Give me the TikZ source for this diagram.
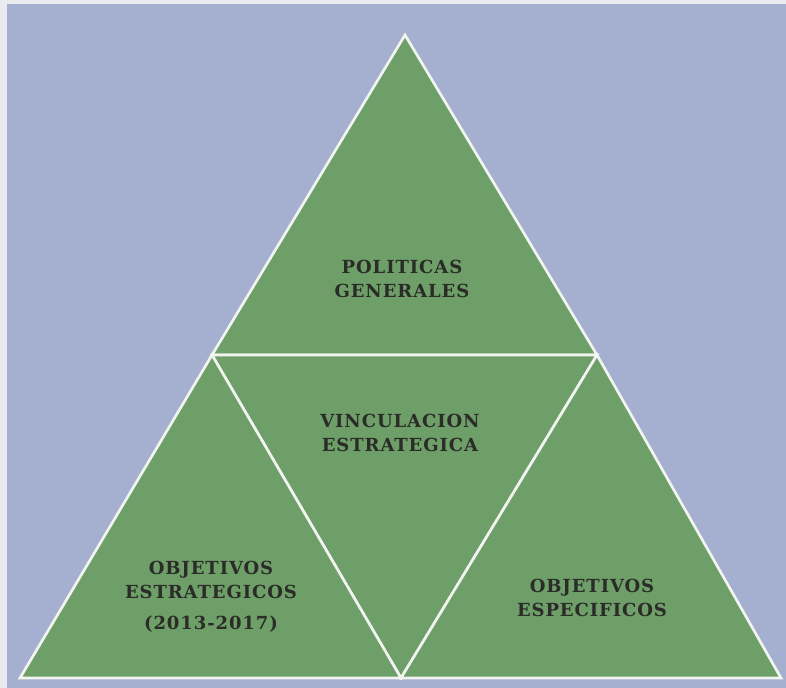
\documentclass[tikz,border=0pt]{standalone}
\usepackage{fontspec}
\setmainfont{DejaVu Serif}
\newfontfamily\pyrfont[LetterSpace=5]{DejaVu Serif}
\definecolor{pyrBack}{HTML}{A5AFCF}
\definecolor{pyrGreen}{HTML}{6E9F68}
\definecolor{pyrEdge}{HTML}{F2F4F0}
\definecolor{pyrInk}{HTML}{2B2B28}
\definecolor{pyrPaper}{HTML}{E9EBEF}

\begin{document}
\begin{tikzpicture}[
  x=0.75pt,
  y=-0.75pt,
  face/.style={
    fill=pyrGreen,
    draw=pyrEdge,
    line width=2pt,
    line join=miter
  },
  facelabel/.style={
    font=\pyrfont\bfseries\fontsize{13.5}{18}\selectfont,
    text=pyrInk,
    align=center
  }
]

\path[use as bounding box] (0,0) rectangle (786,688);
\fill[pyrPaper] (0,0) rectangle (786,688);
\fill[pyrBack] (7,4) rectangle (786,688);

% corners of the pyramid and midpoints of its sides
\coordinate (apex) at (405,35);
\coordinate (bl) at (20,678);
\coordinate (br) at (781,678);
\coordinate (ml) at (212,355);
\coordinate (mr) at (597,355);
\coordinate (mb) at (401,678);

\draw[face] (apex) -- (ml) -- (mr) -- cycle;
\draw[face] (ml) -- (mr) -- (mb) -- cycle;
\draw[face] (ml) -- (bl) -- (mb) -- cycle;
\draw[face] (mr) -- (mb) -- (br) -- cycle;

\node[facelabel] (politicas) at (402,279) {POLITICAS\\GENERALES};
\node[facelabel] (vinculacion) at (400,433) {VINCULACION\\ESTRATEGICA};
\node[facelabel] (estrategicos) at (211,580) {OBJETIVOS\\ESTRATEGICOS};
\node[facelabel] (periodo) at (211,624) {(2013-2017)};
\node[facelabel] (especificos) at (592,598) {OBJETIVOS\\ESPECIFICOS};
\end{tikzpicture}
\end{document}
